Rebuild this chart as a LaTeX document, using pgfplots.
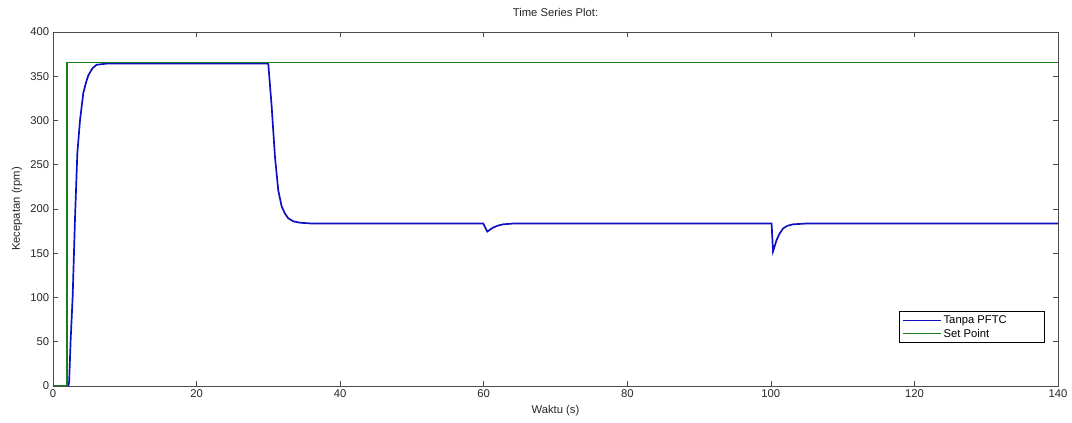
\documentclass[border=0pt]{standalone}
\usepackage{fontspec}
\setmainfont{Liberation Sans}
\usepackage{pgfplots}
\pgfplotsset{compat=1.18}
\definecolor{mblue}{RGB}{15,15,195}
\definecolor{mgreen}{RGB}{25,128,25}
\definecolor{axgray}{RGB}{75,75,75}
\begin{document}
\fontsize{11.3}{13}\selectfont
\begin{tikzpicture}
\begin{axis}[
  scale only axis, width=1005bp, height=354bp,
  xmin=0, xmax=140, ymin=0, ymax=400,
  xtick={0,20,...,140}, ytick={0,50,...,400},
  tick align=inside, major tick length=5bp,
  axis line style={axgray, line width=0.7pt},
  tick style={axgray, line width=0.7pt},
  every tick label/.append style={font=\fontsize{11.3}{13}\selectfont, text=black!85},
  /pgf/number format/assume math mode=true,
  title={Time Series Plot:},
  every axis title/.style={at={(axis description cs:0.5,1)}, anchor=center, yshift=20bp, font=\fontsize{11.3}{13}\selectfont, text=black!85},
  xlabel={Waktu (s)}, ylabel={Kecepatan (rpm)},
  every axis x label/.style={at={(axis description cs:0.5,0)}, anchor=center, yshift=-25bp, font=\fontsize{11.3}{13}\selectfont, text=black!85},
  every axis y label/.style={at={(axis description cs:0,0.5)}, rotate=90, anchor=center, yshift=36bp, font=\fontsize{11.3}{13}\selectfont, text=black!85},
  legend style={at={(0.987,0.121)}, anchor=south east, draw=black, line width=0.7pt, font=\fontsize{11.3}{13}\selectfont, inner xsep=3bp, inner ysep=2bp, row sep=0bp},
  legend cell align=left,
  legend image code/.code={\draw[#1, line width=0.8pt] (0bp,0bp) -- (38bp,0bp);},
]
\coordinate (SW) at (rel axis cs:0,0);
\coordinate (NE) at (rel axis cs:1,1);
\addplot[mblue, line width=1.7pt] coordinates {
(0,0) (2.15,0) (2.25,5) (2.46,52) (2.74,101) (3.06,188) (3.39,263) (3.76,300)
(4.22,331) (4.6,343) (4.92,351) (5.5,359) (6.08,363) (7.5,364.3) (29.95,364.3)
(30.0,363) (30.46,316) (30.92,259) (31.38,221) (31.85,203) (32.3,195)
(32.77,189.5) (33.5,186) (34.4,184.5) (36,183.6) (59.93,183.6)
(60.5,174.5) (61.3,179) (62,181.3) (62.7,182.7) (64.2,183.6)
(100.1,183.6) (100.3,152) (100.8,165) (101.2,172) (101.7,178) (102.3,181)
(103.1,182.7) (105,183.6) (140,183.6)
};
\addlegendentry{\makebox[96bp][l]{Tanpa PFTC}}
\addplot[mgreen, line width=1.2pt] coordinates {
(0,0) (1.95,0) (1.95,365.5) (140,365.5)
};
\addlegendentry{Set Point}
\end{axis}
\pgfresetboundingbox
\path ([shift={(-53bp,-37bp)}]SW) rectangle ([shift={(14bp,32bp)}]NE);
\end{tikzpicture}
\end{document}
